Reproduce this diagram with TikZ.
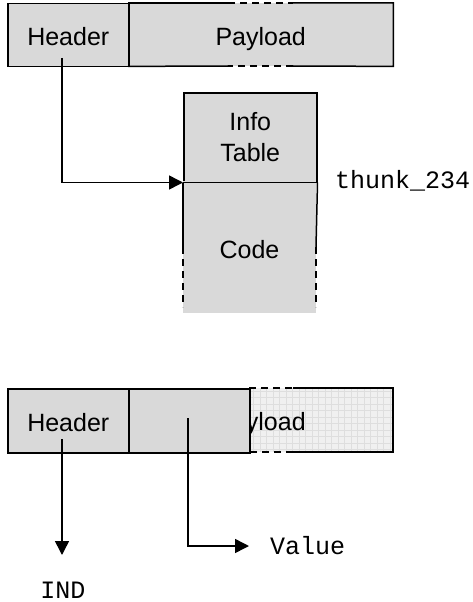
\documentclass[tikz,border=0pt]{standalone}
\usepackage{fontspec}
\setmainfont{Liberation Sans}
\newfontfamily\monof{Liberation Mono}
\usetikzlibrary{arrows.meta}
\definecolor{boxgray}{RGB}{217,217,217}
\definecolor{patgray}{RGB}{240,240,240}
\definecolor{gridgray}{RGB}{222,222,222}
\begin{document}
\begin{tikzpicture}[x=1pt,y=-1pt,
  lw/.style={line width=1.5pt},
  sfont/.style={font=\fontsize{25}{31}\selectfont},
  onel/.style={text height=21.5pt, text depth=0pt},
  cell/.style={draw, lw, fill=boxgray, inner sep=0pt, anchor=north west, sfont},
  fillonly/.style={fill=boxgray, inner sep=0pt, anchor=north west, sfont},
  lbl/.style={font=\monof\fontsize{25}{30}\selectfont, inner sep=0pt},
  arr/.style={lw, -{Triangle[length=14pt,width=14pt]}},
  dashln/.style={lw, dash pattern=on 7pt off 5pt}
]
\useasboundingbox (0,0) rectangle (472,602);
% ---------- top ----------
\node[fillonly, onel, minimum width=265pt, minimum height=63pt] (p1) at (128,3) {Payload};
\node[cell, onel, minimum width=121pt, minimum height=63pt] (h1) at (7,3) {Header};
\draw[lw] (p1.north west) -- (228,3);
\draw[dashln] (228,3) -- (293,3);
\draw[lw] (293,3) -- (p1.north east) -- (p1.south east) -- (293,66);
\draw[dashln] (293,66) -- (228,66);
\draw[lw] (228,66) -- (p1.south west);
% info table
\node[cell, minimum width=133pt, minimum height=89pt, align=center] (info) at (183,92) {Info\\Table};
\fill[boxgray] (183,181) rectangle (316,313);
\node[sfont, onel, inner sep=0pt] (code) at (249.5,248) {Code};
\draw[lw] (info.south west) -- (183,247);
\draw[lw] (info.south east) -- (316,247);
\draw[dashln] (183,247) -- (183,307);
\draw[dashln] (316,247) -- (316,307);
\draw[lw] (info.south west) -- (info.south east);
\node[lbl, anchor=west] (thunk) at (335,181) {thunk\_234};
\coordinate (a1) at (62,58);
\draw[arr] (a1) |- (info.south west);
% ---------- bottom ----------
\fill[patgray] (128,388) rectangle (393,452);
\foreach \gx in {130,136.5,...,393} \draw[gridgray, line width=0.7pt] (\gx,388) -- (\gx,452);
\foreach \gy in {391,397.5,...,452} \draw[gridgray, line width=0.7pt] (128,\gy) -- (393,\gy);
\node[sfont, onel, inner sep=0pt] (p2) at (260.5,420) {Payload};
\node[cell, onel, minimum width=121pt, minimum height=64pt] (h2) at (7,388) {Header};
\node[cell, minimum width=121pt, minimum height=64pt] (m2) at (128,388) {};
\draw[dashln] (249,388) -- (293,388);
\draw[lw] (293,388) -- (393,388) -- (393,452) -- (293,452);
\draw[dashln] (293,452) -- (249,452);
\coordinate (a2) at (62,439);
\coordinate (t2) at (62,555);
\draw[arr] (a2) -- (t2);
\node[lbl] (ind) at (63,590) {IND};
\coordinate (a3) at (188,418);
\coordinate (t3) at (249,546);
\draw[arr] (a3) |- (t3);
\node[lbl, anchor=west] (val) at (270,546) {Value};
\end{tikzpicture}
\end{document}
